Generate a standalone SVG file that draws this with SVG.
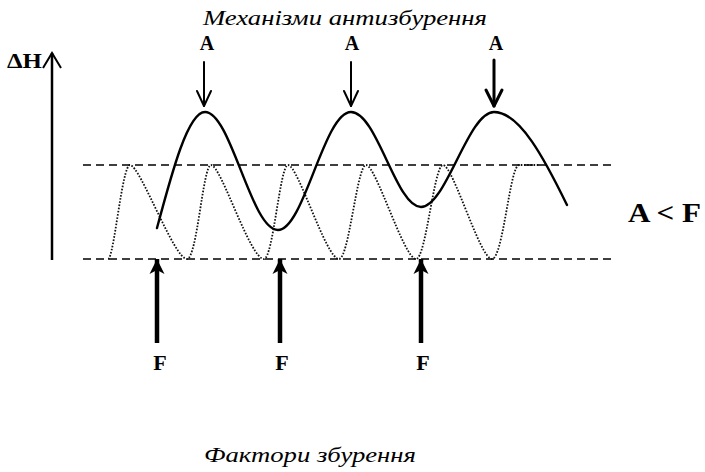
<svg xmlns="http://www.w3.org/2000/svg" width="705" height="472" viewBox="0 0 705 472">
<style>
.t{font-family:"Liberation Serif","Times New Roman",serif;fill:#000}
.ti{font-style:italic;font-size:22px}
.lb{font-weight:bold}
.dash{stroke:#000;stroke-width:1.7;stroke-dasharray:8 5;fill:none}
.dot{stroke:#111;stroke-width:1.8;stroke-dasharray:1.6 1.6;fill:none}
.solid{stroke:#000;stroke-width:2.4;fill:none;stroke-linecap:round}
.aArrow{stroke:#000;fill:none;stroke-linecap:round;stroke-linejoin:round}
.fArrow{stroke:#000;stroke-width:4.5;fill:none}
</style>
<defs>
<marker id="fhead" markerWidth="17" markerHeight="16" refX="16" refY="8" orient="auto" markerUnits="userSpaceOnUse" viewBox="0 0 17 16">
<path d="M16,8 L1,0.5 L5,8 L1,15.5 Z" fill="#000"/>
</marker>
</defs>
<rect width="705" height="472" fill="#fff"/>

<g id="title">
<text class="t ti" x="345" y="25" text-anchor="middle" textLength="284" lengthAdjust="spacingAndGlyphs">Механізми антизбурення</text>
</g>
<g id="bottom-title">
<text class="t ti" x="310" y="462" text-anchor="middle" textLength="212" lengthAdjust="spacingAndGlyphs">Фактори збурення</text>
</g>

<g id="axis">
<line x1="52" y1="53" x2="52" y2="260" stroke="#000" stroke-width="2.5"/>
<polyline points="43,68 52,53 61,68" fill="none" stroke="#000" stroke-width="2"/>
<text class="t lb" x="7" y="68" font-size="21" textLength="35" lengthAdjust="spacingAndGlyphs">ΔH</text>
</g>

<g id="ratio">
<text class="t lb" x="628" y="222" font-size="28" textLength="73" lengthAdjust="spacingAndGlyphs">A &lt; F</text>
</g>

<g id="band">
<line class="dash" x1="83" y1="165" x2="614" y2="165"/>
<line class="dash" x1="83" y1="259" x2="614" y2="259"/>
</g>

<g id="disturbance-wave">
<path class="dot" d="M108,259 C114,259 122,165 130,165 C140,165 174,259 187,259 C197,259 203,165 211,165 C221,165 250,259 264,259 C273,259 280,165 288,165 C298,165 326,259 339,259 C349,259 357,165 366,165 C376,165 404,259 416,259 C426,259 434,165 443,165 C453,165 480,259 492,259 C503,259 510,165 519,165 L540,165"/>
</g>

<g id="control-wave">
<path class="solid" d="M157,228 C172,172 188,112 205,112 C231,112 251,230 278,230 C304,230 324,112 351,112 C377,112 396,207 421,207 C446,207 468,112 494,112 C520,112 545,160 567,205"/>
</g>

<g id="connectors">
<g id="A-arrows">
<line class="aArrow" x1="204" y1="62" x2="204" y2="106" stroke-width="2"/>
<polyline class="aArrow" points="197,91 204,106 211,91" stroke-width="2"/>
<line class="aArrow" x1="351" y1="62" x2="351" y2="106" stroke-width="2"/>
<polyline class="aArrow" points="344,91 351,106 358,91" stroke-width="2"/>
<line class="aArrow" x1="494" y1="60" x2="494" y2="106" stroke-width="3"/>
<polyline class="aArrow" points="486,90 494,106 502,90" stroke-width="3"/>
</g>
<g id="F-arrows">
<line class="fArrow" x1="157" y1="343" x2="157" y2="259" marker-end="url(#fhead)"/>
<line class="fArrow" x1="280" y1="343" x2="280" y2="259" marker-end="url(#fhead)"/>
<line class="fArrow" x1="421" y1="343" x2="421" y2="259" marker-end="url(#fhead)"/>
</g>
</g>

<g id="A-labels">
<text class="t lb" x="207" y="50" font-size="20" text-anchor="middle">A</text>
<text class="t lb" x="352" y="50" font-size="20" text-anchor="middle">A</text>
<text class="t lb" x="496" y="50" font-size="20" text-anchor="middle">A</text>
</g>
<g id="F-labels">
<text class="t lb" x="160" y="370" font-size="22" text-anchor="middle">F</text>
<text class="t lb" x="282" y="370" font-size="22" text-anchor="middle">F</text>
<text class="t lb" x="423" y="370" font-size="22" text-anchor="middle">F</text>
</g>
</svg>
